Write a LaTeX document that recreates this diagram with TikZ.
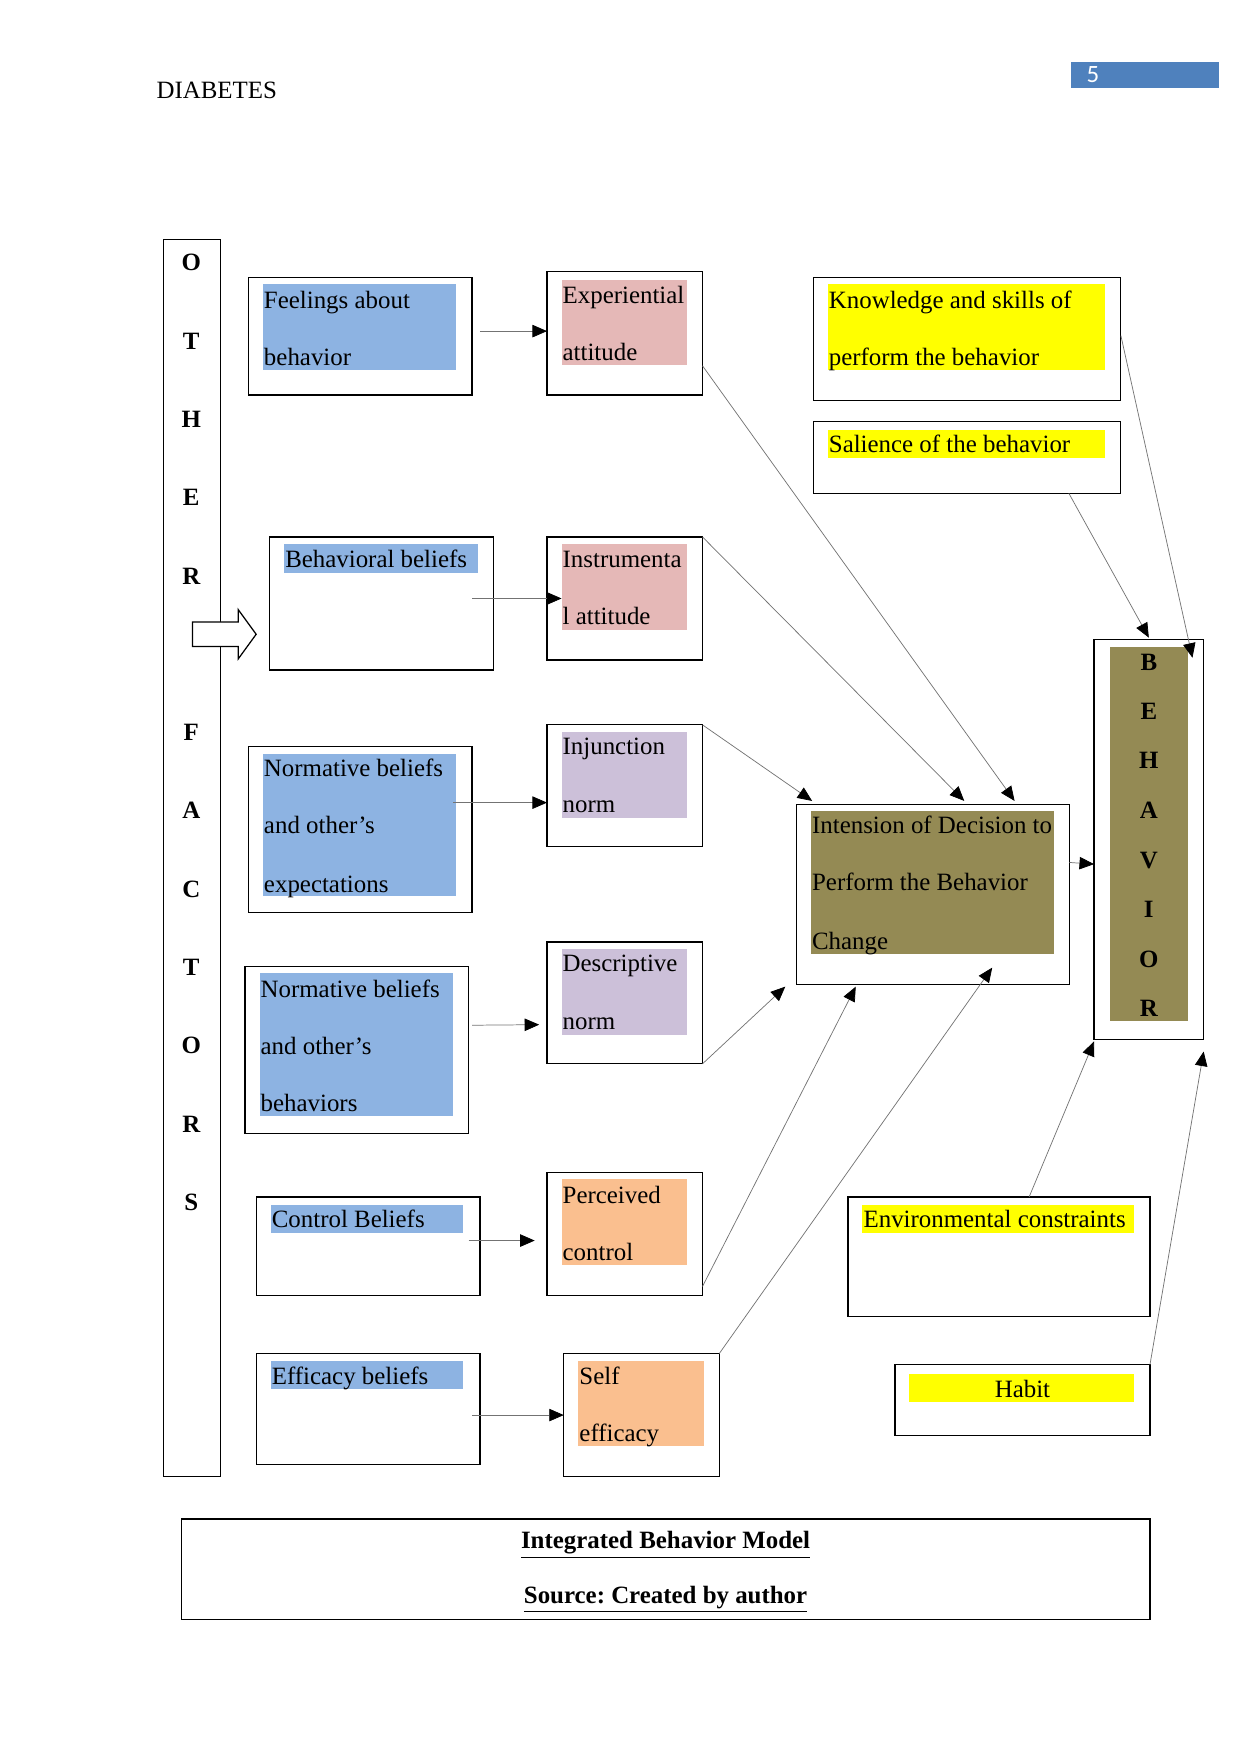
\documentclass[tikz,border=0pt]{standalone}
\usepackage{fontspec}
\setmainfont{Liberation Serif}
\newfontfamily\calib{Carlito}
\usetikzlibrary{arrows.meta,fit,calc}
\definecolor{hblue}{HTML}{8DB3E2}
\definecolor{hpink}{HTML}{E5B8B7}
\definecolor{hpurple}{HTML}{CCC0D9}
\definecolor{horange}{HTML}{FABF8F}
\definecolor{holive}{HTML}{948A54}
\definecolor{hyellow}{HTML}{FFFF00}
\definecolor{numblue}{HTML}{4F81BD}
\frenchspacing
\begin{document}
\begin{tikzpicture}[x=0.5391pt,y=-0.5391pt,
  every node/.style={inner sep=0pt,outer sep=0pt},
  box/.style={draw=black,line width=0.6pt,inner sep=0pt},
  t/.style={anchor=base west,font=\fontsize{12}{14}\selectfont,yshift=-0.8pt},
  tc/.style={anchor=base,font=\fontsize{12}{14}\selectfont,yshift=-0.8pt},
  letter/.style={anchor=base,font=\fontsize{12}{14}\selectfont\bfseries,yshift=-0.6pt},
  conn/.style={draw=black!55,line width=0.35pt,-{Triangle[length=7pt,width=6pt,color=black]}}]
\useasboundingbox (0,0) rectangle (1109,1568);

% header
\node[t] (hdr) at (140,87) {DIABETES};
\node[fill=numblue,fit={(957,55)(1090,79)}] (pg) {};
\node[anchor=base,font=\calib\fontsize{12}{14}\selectfont,text=white] (pgnum) at (977,74) {5};

% OTHER FACTORS column
\node[box,fit={(146,214)(197,1320)}] (others) {};
\foreach \l/\y [count=\i] in {O/234,T/304,H/374,E/444,R/514,F/654,A/724,C/794,T/864,O/934,R/1004,S/1074}
  \node[letter] (ol\i) at (171,\y+7) {\l};
\draw[line width=0.6pt,fill=white] (172,556)--(213,556)--(213,545)--(229,567)--(213,589)--(213,578)--(172,578)--cycle;

% highlight fills
\fill[hblue] (235,254) rectangle (408,331);
\fill[hpink] (502,250) rectangle (614,326);
\fill[hyellow] (740,254) rectangle (988,331);
\fill[hyellow] (740,384) rectangle (988,409);
\fill[hblue] (254,486) rectangle (427,512);
\fill[hpink] (502,486) rectangle (614,563);
\fill[hblue] (235,674) rectangle (408,801);
\fill[hpurple] (502,654) rectangle (614,731);
\fill[hblue] (232,870) rectangle (405,998);
\fill[hpurple] (502,848) rectangle (614,925);
\fill[hblue] (242,1077) rectangle (414,1102);
\fill[horange] (502,1054) rectangle (614,1131);
\fill[hblue] (242,1217) rectangle (414,1242);
\fill[horange] (517,1217) rectangle (629,1293);
\fill[holive] (725,725) rectangle (942,853);
\fill[holive] (992,578) rectangle (1062,913);
\fill[hyellow] (771,1077) rectangle (1014,1102);
\fill[hyellow] (813,1228) rectangle (1014,1253);

% boxes
\node[box,fit={(222,248)(422,353)}] (feel) {};
\node[box,fit={(489,243)(628,353)}] (exper) {};
\node[box,fit={(727,248)(1002,358)}] (know) {};
\node[box,fit={(727,377)(1002,441)}] (sal) {};
\node[box,fit={(241,480)(441,599)}] (bbel) {};
\node[box,fit={(489,480)(628,590)}] (instr) {};
\node[box,fit={(222,667)(422,816)}] (nbexp) {};
\node[box,fit={(489,648)(628,757)}] (inj) {};
\node[box,fit={(219,864)(419,1013)}] (nbbeh) {};
\node[box,fit={(489,842)(628,951)}] (desc) {};
\node[box,fit={(229,1070)(429,1158)}] (cbel) {};
\node[box,fit={(489,1048)(628,1158)}] (perc) {};
\node[box,fit={(229,1210)(429,1309)}] (ebel) {};
\node[box,fit={(504,1210)(643,1320)}] (self) {};
\node[box,fit={(712,719)(956,880)}] (inten) {};
\node[box,fit={(978,572)(1076,929)}] (behav) {};
\node[box,fit={(758,1070)(1028,1177)}] (env) {};
\node[box,fit={(800,1220)(1028,1283)}] (habit) {};
\node[box,fit={(162,1358)(1028,1448)}] (cap) {};

% texts
\node[t] (feelA) at (236,274) {Feelings about};
\node[t] (feelB) at (236,325) {behavior};
\node[t] (experA) at (503,270) {Experiential};
\node[t] (experB) at (503,321) {attitude};
\node[t] (knowA) at (741,274) {Knowledge and skills of};
\node[t] (knowB) at (741,325) {perform the behavior};
\node[t] (salA) at (741,403) {Salience of the behavior};
\node[t] (bbelA) at (255,506) {Behavioral beliefs};
\node[t] (instrA) at (503,506) {Instrumenta};
\node[t] (instrB) at (503,557) {l attitude};
\node[t] (nbexpA) at (236,693) {Normative beliefs};
\node[t] (nbexpB) at (236,744) {and other’s};
\node[t] (nbexpC) at (236,796) {expectations};
\node[t] (injA) at (503,673) {Injunction};
\node[t] (injB) at (503,725) {norm};
\node[t] (nbbehA) at (233,890) {Normative beliefs};
\node[t] (nbbehB) at (233,941) {and other’s};
\node[t] (nbbehC) at (233,992) {behaviors};
\node[t] (descA) at (503,867) {Descriptive};
\node[t] (descB) at (503,919) {norm};
\node[t] (cbelA) at (243,1096) {Control Beliefs};
\node[t] (percA) at (503,1074) {Perceived};
\node[t] (percB) at (503,1125) {control};
\node[t] (ebelA) at (243,1236) {Efficacy beliefs};
\node[t] (selfA) at (518,1236) {Self};
\node[t] (selfB) at (518,1287) {efficacy};
\node[t] (intenA) at (726,744) {Intension of Decision to};
\node[t] (intenB) at (726,795) {Perform the Behavior};
\node[t] (intenC) at (726,847) {Change};
\node[t] (envA) at (772,1096) {Environmental constraints};
\node[tc] (habitA) at (914,1248) {Habit};
\foreach \l/\y [count=\i] in {B/591,E/635,H/679,A/724,V/768,I/812,O/857,R/901}
  \node[letter] (bl\i) at (1027,\y+7) {\l};
\node[tc,font=\fontsize{12}{14}\selectfont\bfseries] (capA) at (595,1383) {\underline{Integrated Behavior Model}};
\node[tc,font=\fontsize{12}{14}\selectfont\bfseries] (capB) at (595,1432) {\underline{Source: Created by author}};

% horizontal connectors
\draw[conn] ($(feel.east |- exper.west)+(7,-2)$) -- ($(exper.west)+(0,-2)$);
\draw[conn] ($(bbel.east |- instr.west)+(-19,0)$) -- ($(instr.west)+(13,0)$);
\draw[conn] ($(nbexp.east |- inj.west)+(-17,15)$) -- ($(inj.west)+(0,15)$);
\draw[conn] ($(nbbeh.east)+(3,-22)$) -- ($(desc.west)+(-7,19.5)$);
\draw[conn] ($(cbel.east)+(-10,-5)$) -- ($(perc.west)+(-11,6)$);
\draw[conn] ($(ebel.east |- self.west)+(-7,0)$) -- (self.west);

% diagonal connectors to intention
\draw[conn] ($(exper.east)+(0,29)$) -- ($(inten.north)+(73,-3)$);
\draw[conn] (instr.north east) -- ($(inten.north)+(28,-3)$);
\draw[conn] (inj.north east) -- ($(inten.north)+(-108,-3)$);
\draw[conn] (desc.south east) -- ($(inten.south west)+(-10,2)$);
\draw[conn] ($(perc.south east)+(0,-8)$) -- ($(inten.south)+(-69,2)$);
\draw[conn] (self.north east) -- ($(inten.south)+(53,-15)$);

% connectors to behavior
\draw[conn] ($(inten.north east)+(0,52)$) -- ($(behav.west)+(0,22)$);
\draw[conn] ($(know.east)+(0,-3)$) -- ($(behav.north east)+(-10,16)$);
\draw[conn] ($(sal.south)+(91,0)$) -- ($(behav.north)+(0,-2)$);
\draw[conn] ($(env.north)+(27,0)$) -- ($(behav.south west)+(0,2)$);
\draw[conn] (habit.north east) -- ($(behav.south east)+(0,11)$);
\end{tikzpicture}
\end{document}
